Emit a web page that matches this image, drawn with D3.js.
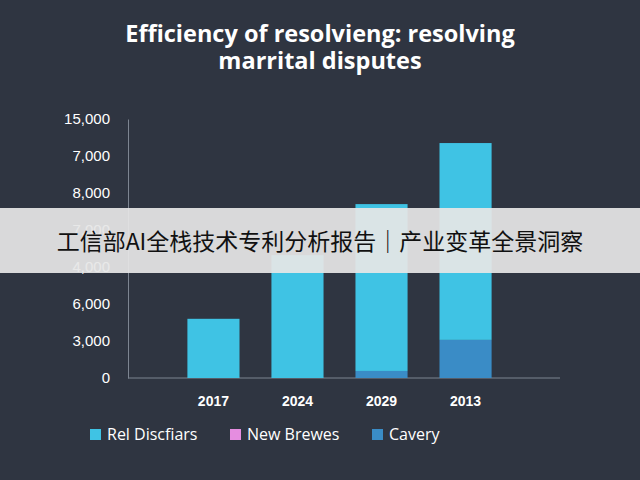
<!DOCTYPE html>
<html>
<head>
<meta charset="utf-8">
<script src="https://cdn.jsdelivr.net/npm/d3@7"></script>
<style>
  body { margin: 0; background: #2e3440; }
  svg { display: block; font-family: "Open Sans", "DejaVu Sans", sans-serif; }
</style>
</head>
<body>
<svg id="chart" width="640" height="480"></svg>
<script>
// data (values in axis-step units, the axis labels are not evenly spaced)
const years = ["2017", "2024", "2029", "2013"];
const relDiscfiars = [1.6, 3.32, 4.51, 5.32];
const newBrewes = [0, 0, 0, 0];
const cavery = [0, 0, 0.19, 1.03];
const tickLabels = ["0", "3,000", "6,000", "4,000", "7,000", "8,000", "7,000", "15,000"];
const seriesNames = ["Rel Discfiars", "New Brewes", "Cavery"];
const colors = ["#3fc3e4", "#e58de0", "#3a8cc6"];

const svg = d3.select("#chart");
svg.append("rect").attr("width", 640).attr("height", 480).attr("fill", "#2f3541");

// title
svg.append("text").attr("x", 320).attr("y", 42).attr("text-anchor", "middle")
  .attr("fill", "#fff").attr("font-size", 23.5).attr("font-weight", "bold")
  .text("Efficiency of resolvieng: resolving");
svg.append("text").attr("x", 320).attr("y", 69).attr("text-anchor", "middle")
  .attr("fill", "#fff").attr("font-size", 23.5).attr("font-weight", "bold")
  .text("marrital disputes");

const x = d3.scaleBand().domain(years).range([179, 500]).paddingInner(0.38).paddingOuter(0.1);
const y = d3.scaleLinear().domain([0, 7]).range([378, 119]);

// axes
const yAxis = d3.axisLeft(y).tickValues(d3.range(8)).tickFormat(i => tickLabels[i]).tickSize(0).tickPadding(18);
const gy = svg.append("g").attr("transform", "translate(128,0)").call(yAxis);
gy.select(".domain").attr("stroke", "#7d8591");
gy.selectAll("text").attr("fill", "#fff").attr("font-size", 15);

svg.append("line").attr("x1", 128).attr("x2", 560).attr("y1", 378).attr("y2", 378)
  .attr("stroke", "#7d8591");

const xAxis = d3.axisBottom(x).tickSize(0).tickPadding(18);
const gx = svg.append("g").attr("transform", "translate(0,378)").call(xAxis);
gx.select(".domain").remove();
gx.selectAll("text").attr("fill", "#fff").attr("font-size", 14).attr("font-weight", "bold");

// stacked bars
const rows = years.map((yr, i) => ({ year: yr, a: relDiscfiars[i], b: newBrewes[i], c: cavery[i] }));
const stack = d3.stack().keys(["c", "b", "a"])(rows);
const colorOf = { a: colors[0], b: colors[1], c: colors[2] };
svg.append("g").selectAll("g").data(stack).join("g")
  .attr("fill", s => colorOf[s.key])
  .selectAll("rect").data(s => s).join("rect")
  .attr("x", d => x(d.data.year))
  .attr("width", x.bandwidth())
  .attr("y", d => y(d[1]))
  .attr("height", d => y(d[0]) - y(d[1]));

// legend
const legX = [90, 230, 372];
const leg = svg.append("g").selectAll("g").data(seriesNames).join("g")
  .attr("transform", (d, i) => `translate(${legX[i]},435)`);
leg.append("rect").attr("x", 0).attr("y", -6).attr("width", 11).attr("height", 11)
  .attr("fill", (d, i) => colors[i]);
leg.append("text").attr("x", 17).attr("y", 5).attr("fill", "#fff").attr("font-size", 16).text(d => d);

// overlay banner
svg.append("rect").attr("x", 0).attr("y", 208).attr("width", 640).attr("height", 65)
  .attr("fill", "#e6e6e6").attr("opacity", 0.93);
svg.append("text").attr("x", 320).attr("y", 250).attr("text-anchor", "middle")
  .attr("fill", "#111").attr("font-size", 23)
  .attr("font-family", "'Noto Sans CJK SC', sans-serif")
  .text("工信部AI全栈技术专利分析报告｜产业变革全景洞察");
</script>
</body>
</html>
